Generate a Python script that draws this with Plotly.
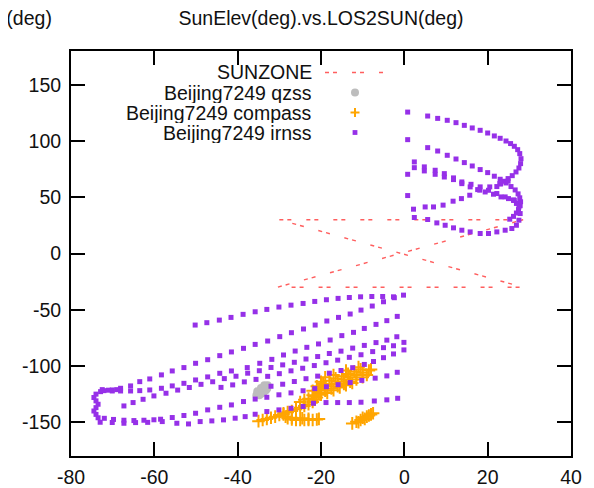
import plotly.graph_objects as go

# ---------------- data ----------------
x_ticks = [-80, -60, -40, -20, 0, 20, 40]
y_ticks = [-150, -100, -50, 0, 50, 100, 150]

sunzone_x = [-30.0, 28.5, -30.5, 28.5, -30.0]
sunzone_y = [30.0, 30.0, -30.0, -30.0, 30.0]

qzss_x = [-35.5, -35.0, -34.5, -34.0, -33.5, -33.0, -32.8, -34.8, -34.2, -33.7, -33.2, -32.9, -35.3, -34.4, -33.6]
qzss_y = [-126.0, -124.5, -123.0, -121.5, -120.0, -118.5, -117.0, -126.0, -124.5, -123.0, -121.5, -120.0, -122.5, -119.5, -117.0]

# compass: lower thin diagonal
cmp_a_x = [-35.0, -34.0, -33.0, -32.0, -31.0, -30.0, -29.0, -28.0, -27.0, -26.0, -25.0, -24.0, -23.0, -22.0, -21.5, -21.0]
cmp_a_y = [-149.0, -148.0, -147.0, -146.0, -145.0, -143.5, -142.0, -141.0, -140.0, -138.5, -137.0, -135.5, -134.0, -132.0, -130.0, -128.0]
# compass: hook / horizontal piece
cmp_b_x = [-29.0, -28.5, -28.0, -27.0, -26.0, -25.0, -24.0, -23.0, -22.0, -21.0, -20.5, -27.0, -26.0, -24.5, -23.0]
cmp_b_y = [-143.0, -145.0, -146.5, -147.5, -148.0, -148.0, -148.0, -148.0, -148.0, -147.5, -147.0, -146.0, -146.5, -146.5, -147.0]
# compass: thick upper part
cmp_c_x = [-22.0, -20.5, -19.0, -17.5, -16.0, -14.5, -13.0, -11.5, -10.0, -9.0,
           -22.0, -20.5, -19.0, -17.5, -16.0, -14.5, -13.0, -11.5, -10.0, -8.5,
           -21.0, -19.5, -18.0, -16.5, -15.0, -13.5, -12.0, -10.5,
           -23.0, -21.5, -20.0, -18.5, -17.0, -15.5, -14.0, -12.5,
           -19.0, -17.0, -14.0, -11.0, -8.0, -20.0, -24.0, -25.0]
cmp_c_y = [-126.0, -124.0, -122.0, -120.0, -118.0, -116.0, -114.0, -112.0, -110.0, -108.0,
           -122.0, -120.0, -118.0, -116.0, -114.0, -112.0, -110.0, -108.0, -106.0, -104.0,
           -118.0, -116.0, -113.0, -111.0, -109.0, -107.0, -105.0, -103.0,
           -129.0, -127.0, -125.5, -124.0, -121.5, -119.0, -117.0, -115.0,
           -110.0, -108.0, -104.0, -101.0, -103.0, -114.0, -130.0, -132.0]
# compass: small cluster
cmp_d_x = [-12.5, -11.5, -10.5, -10.0, -9.0, -8.5, -7.5, -11.0, -9.5, -8.0]
cmp_d_y = [-151.0, -149.5, -148.0, -146.0, -145.0, -144.0, -142.0, -150.0, -147.0, -143.0]

# irnss lower group tracks
L1_x = [-50.2, -47.4, -44.4, -41.6, -38.7, -35.8, -33.0, -30.1, -27.2, -24.3, -21.5, -18.7, -15.9, -13.2, -10.5, -7.8, -5.2, -2.6, -0.2]
L1_y = [-63.6, -61.5, -59.2, -56.8, -54.1, -51.8, -49.7, -47.6, -45.9, -44.4, -42.6, -41.1, -39.9, -39.1, -38.5, -38.2, -38.2, -38.5, -37.0]
L2_x = [-72.1, -70.1, -68.1, -65.7, -63.5, -61.1, -58.3, -55.7, -52.9, -50.1, -47.2, -44.3, -41.5, -38.6, -35.8, -32.8,
        -29.9, -27.1, -24.2, -21.4, -18.6, -15.8, -13.0, -10.4, -7.7, -5.0, -2.4]
L2_y = [-121.9, -121.3, -119.8, -117.7, -113.9, -111.5, -107.9, -104.4, -101.4, -97.6, -94.4, -90.8, -87.5, -84.3, -80.8, -77.8,
        -73.9, -70.4, -67.1, -63.6, -60.0, -56.8, -53.8, -50.3, -46.7, -42.9, -39.3]
L3_x = [-72.9, -70.1, -68.1, -65.7, -63.5, -61.1, -58.3, -55.7, -52.9, -50.1, -47.2, -44.3, -41.5, -37.7, -34.7,
        -31.8, -29.0, -26.2, -23.4, -20.6, -17.8, -15.0, -12.2, -9.6, -6.8, -4.2, -1.7]
L3_y = [-122.8, -122.2, -122.2, -122.2, -121.9, -121.3, -119.8, -117.7, -115.4, -112.4, -109.7, -106.5, -104.4, -101.4, -97.6,
        -94.1, -90.2, -86.7, -83.4, -80.4, -76.9, -73.0, -70.1, -66.6, -63.0, -59.7, -55.9]
L4_x = [-67.3, -65.1, -62.7, -60.1, -57.2, -54.4, -51.6, -48.8, -46.0, -43.2, -40.4, -37.6, -34.8, -32.0, -29.2,
        -26.4, -23.6, -20.8, -18.0, -15.2, -12.4, -9.6, -6.8, -4.2, -1.8]
L4_y = [-135.5, -132.5, -129.6, -126.6, -124.2, -121.4, -119.1, -116.3, -114.0, -111.2, -109.1, -106.4, -104.2, -101.3, -99.0,
        -96.7, -93.8, -91.6, -88.9, -86.8, -84.1, -81.7, -79.2, -77.0, -74.0]
L5_x = [-44.0, -41.2, -38.4, -35.6, -32.8, -30.0, -27.2, -24.4, -21.6, -18.8, -16.0, -13.2, -10.4, -7.6, -5.0, -2.6, -0.1]
L5_y = [-119.0, -116.8, -114.1, -111.9, -109.2, -106.8, -104.3, -102.0, -99.6, -97.1, -94.8, -92.3, -90.0, -87.2, -83.7, -82.0, -79.0]
L6_x = [-32.0, -29.2, -26.4, -23.6, -20.8, -18.0, -15.2, -12.4, -9.6, -7.4, -5.0, -2.6, -0.1]
L6_y = [-118.0, -116.2, -113.8, -111.3, -109.0, -106.4, -104.0, -101.5, -98.6, -96.0, -92.6, -89.3, -85.7]
L7_x = [-72.0, -69.8, -67.3, -64.9, -62.5, -60.1, -58.5, -55.7, -52.9, -50.1, -47.2, -44.3, -41.5, -38.6, -35.8, -33.0,
        -30.1, -27.2, -24.3, -21.5, -18.7, -15.9, -13.0, -10.2, -7.0, -4.2, -1.7]
L7_y = [-146.5, -147.5, -148.2, -148.5, -148.2, -147.8, -147.3, -145.8, -144.0, -142.0, -139.0, -136.7, -134.6, -131.6, -129.4, -127.8,
        -125.6, -123.9, -122.0, -120.1, -118.4, -116.6, -114.7, -112.8, -110.8, -108.8, -105.6]
L8_x = [-73.0, -70.1, -67.3, -64.5, -61.6, -58.1, -54.6, -51.8, -49.0, -46.2, -43.4, -40.6, -38.2, -35.8, -33.0, -30.1,
        -27.2, -24.3, -21.8, -18.8, -16.0, -13.2, -10.4, -7.2, -4.2, -1.6]
L8_y = [-150.0, -150.2, -150.9, -150.3, -150.1, -149.4, -150.9, -151.5, -149.4, -148.8, -147.9, -146.4, -145.0, -142.9, -140.5, -139.0,
        -137.6, -136.0, -133.1, -132.5, -132.5, -132.5, -132.2, -131.1, -130.1, -128.7]
C_x = [-74.0, -74.5, -74.0, -73.5, -74.0, -74.5, -74.0, -73.5, -72.5, -71.0, -69.0]
C_y = [-125.0, -128.0, -131.0, -134.0, -137.0, -140.0, -143.0, -146.0, -121.0, -121.5, -121.0]

# irnss upper group tracks
U0_x = [0.8, 0.8, 0.8, 0.8]
U0_y = [125.7, 101.2, 70.4, 51.5]
U1_x = [5.6, 8.0, 10.3, 12.4, 14.4, 16.3, 18.2, 20.0, 21.6, 23.0, 24.4, 25.5, 26.4, 27.2, 27.7, 28.0, 27.9, 27.5,
        26.8, 25.9, 24.9, 24.0, 23.1, 22.2]
U1_y = [122.2, 120.1, 118.4, 116.3, 113.9, 111.6, 109.5, 107.1, 104.5, 102.4, 100.0, 97.7, 95.3, 92.3, 88.8, 84.3, 79.9, 76.0,
        72.5, 69.2, 66.6, 64.2, 61.8, 59.5]
U2_x = [5.6, 8.0, 10.3, 12.4, 14.4, 16.3, 18.2, 20.0, 21.6, 23.0, 24.4, 25.6, 26.6, 27.3, 27.7, 27.9, 27.8, 27.4, 26.9, 26.2, 25.3]
U2_y = [94.1, 91.1, 87.3, 84.0, 80.8, 77.8, 74.6, 71.9, 68.7, 66.0, 62.7, 59.5, 56.5, 53.0, 49.5, 46.0, 42.5, 39.0, 36.0, 33.0, 30.5]
U3_x = [2.4, 4.8, 7.4, 9.6, 11.8, 13.8, 16.0, 18.2, 20.2, 22.2, 24.2, 26.2, 27.4]
U3_y = [81.4, 77.0, 74.0, 71.0, 67.2, 63.6, 61.5, 59.2, 56.2, 53.3, 50.3, 47.3, 45.0]
U4_x = [2.4, 4.8, 7.4, 9.6, 11.8, 13.8, 15.8, 17.6, 19.4, 21.4, 23.2, 25.0, 26.4]
U4_y = [76.3, 73.4, 70.4, 68.0, 65.7, 62.1, 59.2, 56.8, 54.7, 52.7, 50.3, 48.8, 47.3]
U5_x = [2.2, 5.0, 7.0, 9.3, 11.7, 13.7, 15.7, 18.1, 20.5, 22.9, 24.9]
U5_y = [39.4, 41.4, 41.4, 43.0, 46.5, 48.8, 51.8, 56.3, 59.2, 62.1, 64.3]
U6_x = [2.4, 5.6, 7.8, 9.8, 11.8, 13.8, 15.8, 18.2, 20.2, 22.2, 24.2, 25.8, 26.9, 27.5, 27.8, 27.5, 26.9, 26.2]
U6_y = [32.0, 30.2, 27.2, 25.1, 22.8, 20.7, 19.2, 17.8, 17.8, 19.2, 20.7, 22.2, 25.1, 29.6, 35.5, 41.4, 44.5, 47.5]

irnss_x = L1_x + L2_x + L3_x + L4_x + L5_x + L6_x + L7_x + L8_x + C_x + U0_x + U1_x + U2_x + U3_x + U4_x + U5_x + U6_x
irnss_y = L1_y + L2_y + L3_y + L4_y + L5_y + L6_y + L7_y + L8_y + C_y + U0_y + U1_y + U2_y + U3_y + U4_y + U5_y + U6_y
compass_x = cmp_a_x + cmp_b_x + cmp_c_x + cmp_d_x
compass_y = cmp_a_y + cmp_b_y + cmp_c_y + cmp_d_y

legend_names = ["SUNZONE", "Beijing7249 qzss", "Beijing7249 compass", "Beijing7249 irnss"]

# ---------------- style ----------------
FONT = "Liberation Sans, Arial, Helvetica, sans-serif"
FS = 19.5
C_SUN = "rgba(255,40,40,0.75)"
C_QZSS = "#bdbdbd"
C_CMP = "#ffa500"
C_IRN = "#9630e8"

fig = go.Figure()
fig.add_trace(go.Scatter(x=sunzone_x, y=sunzone_y, mode="lines", name=legend_names[0],
                         line=dict(color=C_SUN, width=1.4, dash="4px,4px,4px,15px")))
fig.add_trace(go.Scatter(x=qzss_x, y=qzss_y, mode="markers", name=legend_names[1],
                         marker=dict(symbol="circle", size=8, color=C_QZSS, line=dict(width=0))))
fig.add_trace(go.Scatter(x=compass_x, y=compass_y, mode="markers", name=legend_names[2],
                         marker=dict(symbol="cross-thin", size=9, color=C_CMP,
                                     line=dict(width=2, color=C_CMP))))
fig.add_trace(go.Scatter(x=irnss_x, y=irnss_y, mode="markers", name=legend_names[3],
                         marker=dict(symbol="square", size=5, color=C_IRN, line=dict(width=0))))

# the page body adds an 8px offset; size the figure so the plot frame lands on the reference pixels
OFF = 8
W, H = 594 - OFF, 488 - OFF
L, R, T, B = 71 - OFF, 23, 51 - OFF, 32
PW, PH = W - L - R, H - T - B

def px_x(screen_px):
    return (screen_px - OFF - L) / PW

def px_y(screen_py):
    return (H - B - (screen_py - OFF)) / PH

rows = [72.5, 92.5, 112.5, 132.5]
annotations = []
for name, ry in zip(legend_names, rows):
    annotations.append(dict(text=name, xref="paper", yref="paper", x=px_x(314), y=px_y(ry),
                            xanchor="right", yanchor="middle", showarrow=False,
                            height=20, valign="middle",
                            font=dict(family=FONT, size=FS, color="#111")))
annotations.append(dict(text="LOS2SUN Angle to (deg)", xref="paper", yref="paper",
                        x=px_x(54), y=px_y(18), xanchor="right", yanchor="middle", showarrow=False,
                        font=dict(family=FONT, size=FS, color="#111")))

mx = 355
shapes = [
    dict(type="line", xref="paper", yref="paper", x0=px_x(325), x1=px_x(384), y0=px_y(rows[0]), y1=px_y(rows[0]),
         line=dict(color=C_SUN, width=1.4, dash="4px,4px,4px,15px")),
    dict(type="circle", xref="paper", yref="paper", x0=px_x(mx - 4), x1=px_x(mx + 4),
         y0=px_y(rows[1] + 4), y1=px_y(rows[1] - 4), fillcolor=C_QZSS, line=dict(width=0)),
    dict(type="line", xref="paper", yref="paper", x0=px_x(mx - 4.5), x1=px_x(mx + 4.5),
         y0=px_y(rows[2]), y1=px_y(rows[2]), line=dict(color=C_CMP, width=2)),
    dict(type="line", xref="paper", yref="paper", x0=px_x(mx), x1=px_x(mx),
         y0=px_y(rows[2] - 4.5), y1=px_y(rows[2] + 4.5), line=dict(color=C_CMP, width=2)),
    dict(type="rect", xref="paper", yref="paper", x0=px_x(mx - 2.4), x1=px_x(mx + 2.4),
         y0=px_y(rows[3] + 2.4), y1=px_y(rows[3] - 2.4), fillcolor=C_IRN, line=dict(width=0)),
]

axis_common = dict(showgrid=False, zeroline=False, showline=True, linecolor="black", linewidth=2,
                   mirror="allticks", ticks="inside", ticklen=14, tickwidth=2, tickcolor="black",
                   automargin=False,
                   tickfont=dict(family=FONT, size=FS, color="#111"))

fig.update_layout(
    width=W, height=H,
    margin=dict(l=L, r=R, t=T, b=B, autoexpand=False),
    paper_bgcolor="white", plot_bgcolor="white",
    showlegend=False,
    title=dict(text="SunElev(deg).vs.LOS2SUN(deg)", x=0.5, xref="paper", xanchor="center",
               y=1 - (18 - OFF) / H, yref="container", yanchor="middle",
               font=dict(family=FONT, size=FS, color="#111")),
    xaxis=dict(range=[-80, 40], tickvals=x_ticks, ticktext=[str(v) for v in x_ticks],
               ticklabelstandoff=3, **axis_common),
    yaxis=dict(range=[-180, 180], tickvals=y_ticks, ticktext=[str(v) for v in y_ticks],
               ticklabelstandoff=4, **axis_common),
    annotations=annotations,
    shapes=shapes,
)

fig.write_html("out.html")
